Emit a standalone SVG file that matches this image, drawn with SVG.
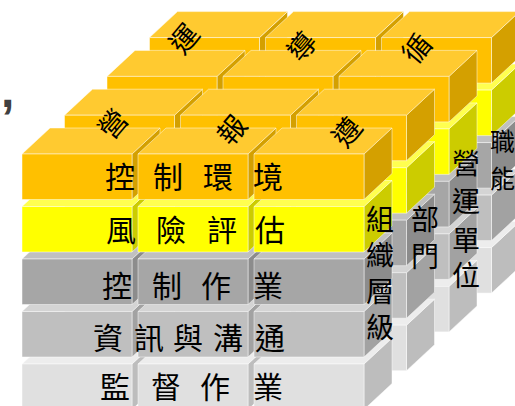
<svg xmlns="http://www.w3.org/2000/svg" width="515" height="406" viewBox="0 0 515 406">
<style>
.of{fill:#FFC000}.ot{fill:#FFCA30}.os{fill:#D4A000}
.yf{fill:#FFFF00}.yt{fill:#FFFF50}.ys{fill:#CCCC00}
.af{fill:#A6A6A6}.at{fill:#C0C0C0}.as{fill:#8C8C8C}
.bf{fill:#BFBFBF}.bt{fill:#D4D4D4}.bs{fill:#A2A2A2}
.cf{fill:#E0E0E0}.ct{fill:#EDEDED}.cs{fill:#BDBDBD}
.blk path,.blk rect{stroke:#FFFFFF;stroke-opacity:0.6;stroke-width:0.8;stroke-linejoin:round}
text{font-family:"Noto Sans CJK TC","Noto Sans CJK SC",sans-serif;fill:#000}
.front{font-size:30px}
.top{font-size:28px}
.side{font-size:28px}
</style>
<defs>
<g id="bo" class="blk"><path class="os" d="M110 0 l28 -26 v45.5 l-28 26 z"/><path class="ot" d="M0 0 h110 l28 -26 h-110 z"/><rect class="of" width="110" height="45.5"/></g>
<g id="by" class="blk"><path class="ys" d="M110 0 l28 -26 v45.5 l-28 26 z"/><path class="yt" d="M0 0 h110 l28 -26 h-110 z"/><rect class="yf" width="110" height="45.5"/></g>
<g id="ba" class="blk"><path class="as" d="M110 0 l28 -26 v45.5 l-28 26 z"/><path class="at" d="M0 0 h110 l28 -26 h-110 z"/><rect class="af" width="110" height="45.5"/></g>
<g id="bb" class="blk"><path class="bs" d="M110 0 l28 -26 v45.5 l-28 26 z"/><path class="bt" d="M0 0 h110 l28 -26 h-110 z"/><rect class="bf" width="110" height="45.5"/></g>
<g id="bc" class="blk"><path class="cs" d="M110 0 l28 -26 v45.5 l-28 26 z"/><path class="ct" d="M0 0 h110 l28 -26 h-110 z"/><rect class="cf" width="110" height="45.5"/></g>
</defs>

<g id="layer-zhineng">
<use href="#bc" x="149.5" y="247.6"/><use href="#bc" x="265.5" y="247.6"/><use href="#bc" x="381.5" y="247.6"/>
<use href="#bb" x="149.5" y="195.1"/><use href="#bb" x="265.5" y="195.1"/><use href="#bb" x="381.5" y="195.1"/>
<use href="#ba" x="149.5" y="142.6"/><use href="#ba" x="265.5" y="142.6"/><use href="#ba" x="381.5" y="142.6"/>
<use href="#by" x="149.5" y="90.1"/><use href="#by" x="265.5" y="90.1"/><use href="#by" x="381.5" y="90.1"/>
<use href="#bo" x="149.5" y="37.6"/><use href="#bo" x="265.5" y="37.6"/><use href="#bo" x="381.5" y="37.6"/>
</g>
<g id="layer-yingyun">
<use href="#bc" x="107" y="286.4"/><use href="#bc" x="223" y="286.4"/><use href="#bc" x="339" y="286.4"/>
<use href="#bb" x="107" y="233.9"/><use href="#bb" x="223" y="233.9"/><use href="#bb" x="339" y="233.9"/>
<use href="#ba" x="107" y="181.4"/><use href="#ba" x="223" y="181.4"/><use href="#ba" x="339" y="181.4"/>
<use href="#by" x="107" y="128.9"/><use href="#by" x="223" y="128.9"/><use href="#by" x="339" y="128.9"/>
<use href="#bo" x="107" y="76.4"/><use href="#bo" x="223" y="76.4"/><use href="#bo" x="339" y="76.4"/>
</g>
<g id="layer-bumen">
<use href="#bc" x="64.5" y="325.2"/><use href="#bc" x="180.5" y="325.2"/><use href="#bc" x="296.5" y="325.2"/>
<use href="#bb" x="64.5" y="272.7"/><use href="#bb" x="180.5" y="272.7"/><use href="#bb" x="296.5" y="272.7"/>
<use href="#ba" x="64.5" y="220.2"/><use href="#ba" x="180.5" y="220.2"/><use href="#ba" x="296.5" y="220.2"/>
<use href="#by" x="64.5" y="167.7"/><use href="#by" x="180.5" y="167.7"/><use href="#by" x="296.5" y="167.7"/>
<use href="#bo" x="64.5" y="115.2"/><use href="#bo" x="180.5" y="115.2"/><use href="#bo" x="296.5" y="115.2"/>
</g>
<g id="layer-zuzhi">
<use href="#bc" x="22" y="364"/><use href="#bc" x="138" y="364"/><use href="#bc" x="254" y="364"/>
<use href="#bb" x="22" y="311.5"/><use href="#bb" x="138" y="311.5"/><use href="#bb" x="254" y="311.5"/>
<use href="#ba" x="22" y="259"/><use href="#ba" x="138" y="259"/><use href="#ba" x="254" y="259"/>
<use href="#by" x="22" y="206.5"/><use href="#by" x="138" y="206.5"/><use href="#by" x="254" y="206.5"/>
<use href="#bo" x="22" y="154"/><use href="#bo" x="138" y="154"/><use href="#bo" x="254" y="154"/>
</g>

<g id="component-labels" class="front">
<text x="105 153 203 253" y="188">控制環境</text>
<text x="106 156 207 255" y="241">風險評估</text>
<text x="102 152 201 253" y="297">控制作業</text>
<text x="93 134 173 213 255" y="349">資訊與溝通</text>
<text x="100 151 200 253" y="398">監督作業</text>
</g>

<g id="objective-labels" class="top">
<text transform="translate(113 124) rotate(-50)" x="-14 97" y="10">營運</text>
<text transform="translate(232 130) rotate(-50)" x="-14 95" y="10">報導</text>
<text transform="translate(347 132) rotate(-50)" x="-14 95" y="10">遵循</text>
</g>

<g id="unit-labels" class="side">
<text x="366 366 366 366" y="230 266 302 338">組織層級</text>
<text x="411 411" y="230 267">部門</text>
<text x="452 452 452 452" y="174 212 251 286">營運單位</text>
<text x="490 490" y="151 188" style="font-size:25px">職能</text>
</g>

<text id="comma" x="1" y="107" style="font-family:'Liberation Sans',sans-serif;font-size:48px;font-weight:bold;fill:#404040">,</text>
</svg>
